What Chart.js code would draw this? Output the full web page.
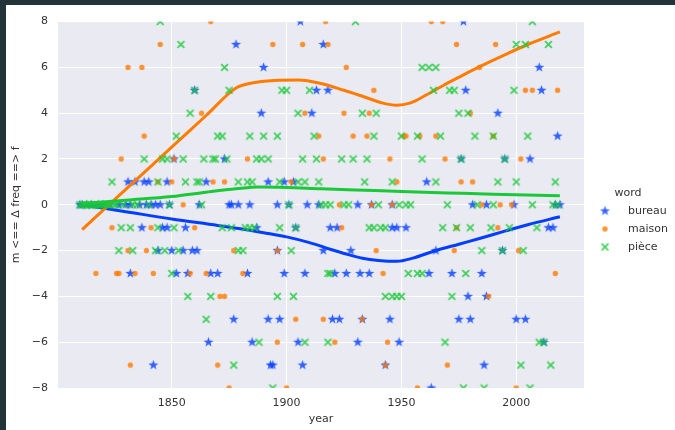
<!DOCTYPE html>
<html lang="en">
<head>
  <meta charset="UTF-8">
  <title>word gender delta</title>
  <script src="https://cdn.jsdelivr.net/npm/chart.js"></script>
  <style>
    body {
      margin: 0;
      background-color: #22343a;
      width: 675px;
      height: 430px;
      overflow: hidden;
    }
    #wrap {
      position: absolute;
      left: 6px;
      top: 5px;
      width: 669px;
      height: 425px;
      background-color: #fff;
    }
  </style>
</head>
<body>
  <div id="wrap">
    <canvas id="chartCanvas" width="669" height="425"></canvas>
  </div>

  <script>
    // tick labels
    const xTicks = [1850, 1900, 1950, 2000];
    const yTicks = [-8, -6, -4, -2, 0, 2, 4, 6, 8];

    // scatter: [value, [years at that value]]
    const bureauRows = [
      [8, [1906, 1977]],
      [7, [1878, 1916]],
      [6, [1890, 2010]],
      [5, [1860, 1913, 1918, 1978, 2011]],
      [4, [1889, 1911, 1992]],
      [3, [2018]],
      [2, [1851, 1873, 1976, 1995, 2006]],
      [1, [1831, 1834, 1838, 1840, 1848, 1865, 1892, 1899, 1903, 1961]],
      [0, [1810, 1811, 1813, 1815, 1818, 1820, 1823, 1827, 1830, 1832, 1836, 1839, 1841, 1843, 1845, 1849, 1862, 1875, 1876, 1879, 1884, 1896, 1901, 1909, 1914, 1931, 1937, 1946, 1981, 1987, 1999, 2017, 2019]],
      [-1, [1837, 1846, 1848, 1856, 1887, 1904, 1919, 1922, 1946, 1948, 1952, 2014, 2016]],
      [-2, [1844, 1850, 1855, 1859, 1861, 1896, 1916, 1928, 1965, 1994]],
      [-3, [1832, 1852, 1857, 1867, 1870, 1883, 1899, 1908, 1921, 1926, 1932, 1936, 1962, 1972, 1985]],
      [-4, [1979, 1987]],
      [-5, [1877, 1892, 1897, 1920, 1923, 1933, 1945, 1975, 1980, 2000, 2004]],
      [-6, [1866, 1885, 1905, 1931, 1949, 2012]],
      [-7, [1842, 1893, 1894, 1907, 1943, 1986]],
      [-8, [1963]]
    ];

    const maisonRows = [
      [8, [1867, 1917, 1963, 1968]],
      [7, [1845, 1894, 1907, 1918, 1974, 1991]],
      [6, [1831, 1837, 1926, 1984]],
      [5, [1938, 2004, 2007, 2018]],
      [4, [1863, 1908, 1925, 1936, 1980]],
      [3, [1838, 1914, 1929, 1935, 1951, 1952, 1958, 1965, 1990]],
      [2, [1828, 1851, 1883, 1916, 1945, 1969, 2002]],
      [1, [1844, 1850, 1868, 1873, 1902, 1948, 1976, 1981]],
      [0, [1855, 1923, 1937, 1946, 1985, 1993, 1998]],
      [-1, [1824, 1841, 1860, 1924, 1974, 1992]],
      [-2, [1831, 1839, 1877, 1896, 1939, 1973, 2001]],
      [-3, [1817, 1826, 1827, 1834, 1842, 1858, 1865, 1881, 1942, 2017]],
      [-4, [1871, 1873, 1988]],
      [-5, [1904, 1916, 1933]],
      [-6, [1896, 1921, 1944]],
      [-7, [1832, 1870, 1943, 1970]],
      [-8, [1875, 1900, 1957, 2000]]
    ];

    const pieceRows = [
      [8, [1845, 1930, 2007]],
      [7, [1854, 2000, 2004, 2014]],
      [6, [1873, 1959, 1962, 1965]],
      [5, [1860, 1875, 1898, 1900, 1910, 1964, 1971, 1973, 1999]],
      [4, [1858, 1905, 1933, 1939, 1975, 1979]],
      [3, [1852, 1870, 1872, 1884, 1890, 1896, 1912, 1938, 1950, 1957, 1967, 1982, 1990, 2005]],
      [2, [1838, 1846, 1848, 1855, 1864, 1868, 1869, 1874, 1887, 1889, 1892, 1907, 1913, 1924, 1929, 1935, 1959, 1976, 1995]],
      [1, [1824, 1844, 1856, 1861, 1862, 1879, 1883, 1885, 1897, 1905, 1908, 1914, 1934, 1946, 1965, 1992, 2000, 2017]],
      [0, [1810, 1811, 1812, 1813, 1814, 1815, 1816, 1817, 1818, 1819, 1820, 1821, 1822, 1823, 1825, 1826, 1829, 1833, 1835, 1840, 1849, 1863, 1901, 1915, 1917, 1919, 1925, 1927, 1940, 1949, 1952, 1954, 1970, 1983, 1990, 2007, 2016, 2018]],
      [-1, [1828, 1832, 1844, 1851, 1872, 1876, 1882, 1884, 1886, 1897, 1904, 1936, 1938, 1941, 1943, 1968, 1974, 1980, 1989, 1997, 2009]],
      [-2, [1827, 1833, 1843, 1847, 1853, 1879, 1881, 1902, 1985, 1994, 2003]],
      [-3, [1850, 1918, 1919, 1953, 1957, 1959, 1978]],
      [-4, [1857, 1867, 1896, 1903, 1943, 1946, 1948, 1950, 1972]],
      [-5, [1865]],
      [-6, [1888, 1908, 1918, 1969, 2010, 2012]],
      [-7, [1877, 2002, 2015]],
      [-8, [1894, 1977, 1986, 2006]]
    ];

    // smoothed trend lines
    const fitYears = {
      bureau: [1811, 1830, 1850, 1870, 1880, 1890, 1900, 1910, 1919, 1926, 1933, 1940, 1948, 1955, 1964, 1975, 1984, 1995, 2005, 2019],
      maison: [1811, 1830, 1850, 1865, 1878, 1885, 1895, 1905, 1915, 1925, 1933, 1942, 1948, 1954, 1960, 1968, 1976, 1984, 1995, 2005, 2019],
      piece: [1811, 1830, 1850, 1865, 1878, 1888, 1900, 1915, 1930, 1950, 1970, 1990, 2019]
    };
    const bureauFit = [0.0, -0.3, -0.62, -0.9, -1.05, -1.22, -1.4, -1.65, -1.94, -2.15, -2.33, -2.43, -2.47, -2.33, -2.03, -1.72, -1.47, -1.15, -0.87, -0.52];
    const maisonFit = [-1.08, 0.67, 2.52, 3.9, 5.1, 5.32, 5.43, 5.45, 5.3, 5.0, 4.74, 4.44, 4.35, 4.45, 4.75, 5.2, 5.62, 6.03, 6.55, 7.0, 7.55];
    const pieceFit = [0.05, 0.2, 0.36, 0.55, 0.7, 0.78, 0.76, 0.7, 0.65, 0.58, 0.52, 0.46, 0.39];

    const BLUE = '#023eff';
    const ORANGE = '#ff7c00';
    const GREEN = '#1ac938';

    // marker images (matplotlib-like '*', 'o', 'x')
    function makeMarker(kind, color) {
      const c = document.createElement('canvas');
      c.width = 13;
      c.height = 13;
      const g = c.getContext('2d');
      g.globalAlpha = 0.8;
      g.fillStyle = color;
      g.strokeStyle = color;
      const cx = 6.5, cy = 6.5;
      if (kind === 'star') {
        g.beginPath();
        for (let i = 0; i < 10; i++) {
          const r = i % 2 === 0 ? 5.2 : 2.1;
          const a = -Math.PI / 2 + i * Math.PI / 5;
          const px = cx + r * Math.cos(a);
          const py = cy + r * Math.sin(a);
          if (i === 0) g.moveTo(px, py); else g.lineTo(px, py);
        }
        g.closePath();
        g.fill();
      } else if (kind === 'dot') {
        g.beginPath();
        g.arc(cx, cy, 2.7, 0, Math.PI * 2);
        g.fill();
      } else {
        g.lineWidth = 1.8;
        g.beginPath();
        g.moveTo(cx - 3.4, cy - 3.4);
        g.lineTo(cx + 3.4, cy + 3.4);
        g.moveTo(cx + 3.4, cy - 3.4);
        g.lineTo(cx - 3.4, cy + 3.4);
        g.stroke();
      }
      return c;
    }

    const starImg = makeMarker('star', BLUE);
    const dotImg = makeMarker('dot', ORANGE);
    const crossImg = makeMarker('x', GREEN);

    function toPoints(rows) {
      const pts = [];
      rows.forEach(([v, yrs]) => yrs.forEach(yr => pts.push({ x: yr, y: v })));
      return pts;
    }

    function toLine(xs, ys) {
      return xs.map((x, i) => ({ x: x, y: ys[i] }));
    }

    function scatterSet(label, rows, img, order) {
      return {
        label: label,
        data: toPoints(rows),
        pointStyle: img,
        pointRadius: 5,
        showLine: false,
        clip: 0,
        order: order
      };
    }

    function lineSet(label, xs, ys, color, order) {
      return {
        label: label,
        data: toLine(xs, ys),
        showLine: true,
        borderColor: color,
        borderWidth: 3,
        pointRadius: 0,
        cubicInterpolationMode: 'monotone',
        fill: false,
        clip: 0,
        order: order
      };
    }

    const plotBg = {
      id: 'plotBg',
      beforeDraw(chart) {
        const a = chart.chartArea;
        const ctx = chart.ctx;
        ctx.save();
        ctx.fillStyle = '#eaeaf2';
        ctx.fillRect(a.left, a.top, a.right - a.left, a.bottom - a.top);
        ctx.restore();
      }
    };

    const legendBox = {
      id: 'legendBox',
      afterDraw(chart) {
        const ctx = chart.ctx;
        ctx.save();
        ctx.font = '11px "DejaVu Sans"';
        ctx.fillStyle = '#333';
        ctx.textBaseline = 'middle';
        ctx.textAlign = 'center';
        ctx.fillText('word', 622, 188);
        ctx.textAlign = 'left';
        const items = [['bureau', starImg], ['maison', dotImg], ['pièce', crossImg]];
        items.forEach(([txt, img], i) => {
          const y = 206 + i * 18;
          ctx.drawImage(img, 599 - img.width / 2, y - img.height / 2);
          ctx.fillText(txt, 622, y);
        });
        ctx.restore();
      }
    };

    const tickFont = { family: 'DejaVu Sans', size: 11 };

    new Chart(document.getElementById('chartCanvas'), {
      type: 'scatter',
      data: {
        datasets: [
          scatterSet('bureau', bureauRows, starImg, 6),
          lineSet('bureau fit', fitYears.bureau, bureauFit, BLUE, 5),
          scatterSet('maison', maisonRows, dotImg, 4),
          lineSet('maison fit', fitYears.maison, maisonFit, ORANGE, 3),
          scatterSet('pièce', pieceRows, crossImg, 2),
          lineSet('pièce fit', fitYears.piece, pieceFit, GREEN, 1)
        ]
      },
      options: {
        responsive: false,
        animation: false,
        devicePixelRatio: 1,
        layout: { padding: { top: 12, right: 91, left: 0, bottom: 0 } },
        plugins: {
          legend: { display: false },
          tooltip: { enabled: false }
        },
        scales: {
          x: {
            type: 'linear',
            min: 1800.5,
            max: 2029.5,
            afterBuildTicks: s => { s.ticks = xTicks.map(v => ({ value: v })); },
            afterFit: s => { s.height = 42; },
            grid: { color: '#ffffff', lineWidth: 1, drawTicks: false },
            border: { display: false },
            ticks: { font: tickFont, color: '#333', padding: 9, callback: v => String(v) },
            title: { display: true, text: 'year', font: tickFont, color: '#333', padding: { top: 4, bottom: 4 } }
          },
          y: {
            min: -8,
            max: 8,
            afterBuildTicks: s => { s.ticks = yTicks.map(v => ({ value: v })); },
            afterFit: s => { s.width = 52; },
            grid: { color: '#ffffff', lineWidth: 1, drawTicks: false },
            border: { display: false },
            ticks: { font: tickFont, color: '#333', padding: 10, callback: v => String(v).replace('-', '\u2212') },
            title: { display: true, text: 'm <== Δ freq ==> f', font: tickFont, color: '#333', padding: { top: 4, bottom: 4 } }
          }
        }
      },
      plugins: [plotBg, legendBox]
    });
  </script>
</body>
</html>
